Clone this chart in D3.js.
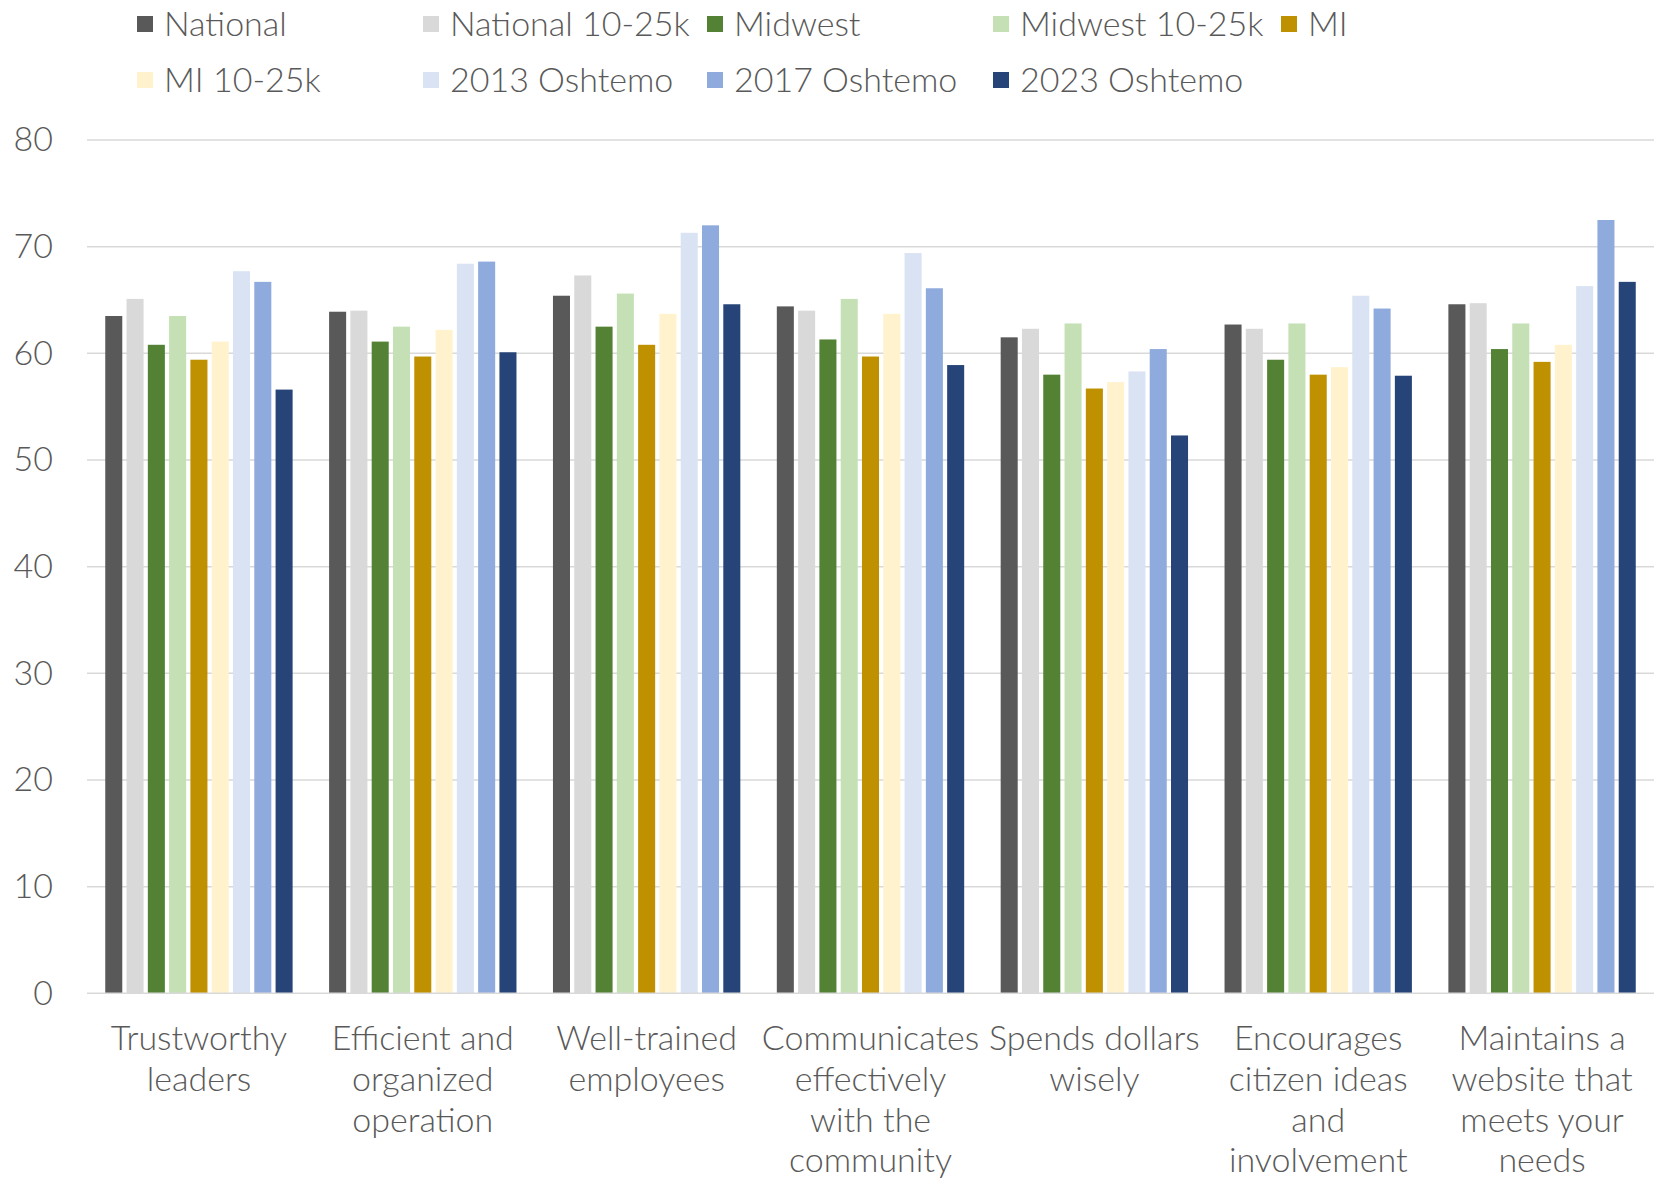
<!DOCTYPE html>
<html>
<head>
<meta charset="utf-8">
<script src="https://cdn.jsdelivr.net/npm/d3@7"></script>
<style>
  html, body { margin: 0; padding: 0; background: #fff; }
  svg text { font-family: Lato, "Open Sans", sans-serif; font-weight: 300; fill: #595959; }
</style>
</head>
<body>
<svg id="chart" width="1660" height="1180"></svg>
<script>
// Survey categories, each drawn as a multi-line tick label
const categories = [
  "Trustworthy leaders",
  "Efficient and organized operation",
  "Well-trained employees",
  "Communicates effectively with the community",
  "Spends dollars wisely",
  "Encourages citizen ideas and involvement",
  "Maintains a website that meets your needs"
];
const categoryLines = [
  ["Trustworthy", "leaders"],
  ["Efficient and", "organized", "operation"],
  ["Well-trained", "employees"],
  ["Communicates", "effectively", "with the", "community"],
  ["Spends dollars", "wisely"],
  ["Encourages", "citizen ideas", "and", "involvement"],
  ["Maintains a", "website that", "meets your", "needs"]
];

const seriesNames = [
  "National", "National 10-25k", "Midwest", "Midwest 10-25k", "MI",
  "MI 10-25k", "2013 Oshtemo", "2017 Oshtemo", "2023 Oshtemo"
];
const seriesColors = [
  "#595959", "#d9d9d9", "#548235", "#c5e0b4", "#bf9000",
  "#fff2cc", "#dae3f3", "#8faadc", "#264478"
];

// One value per category for each series
const national      = [63.5, 63.9, 65.4, 64.4, 61.5, 62.7, 64.6];
const national10_25 = [65.1, 64.0, 67.3, 64.0, 62.3, 62.3, 64.7];
const midwest       = [60.8, 61.1, 62.5, 61.3, 58.0, 59.4, 60.4];
const midwest10_25  = [63.5, 62.5, 65.6, 65.1, 62.8, 62.8, 62.8];
const mi            = [59.4, 59.7, 60.8, 59.7, 56.7, 58.0, 59.2];
const mi10_25       = [61.1, 62.2, 63.7, 63.7, 57.3, 58.7, 60.8];
const osh2013       = [67.7, 68.4, 71.3, 69.4, 58.3, 65.4, 66.3];
const osh2017       = [66.7, 68.6, 72.0, 66.1, 60.4, 64.2, 72.5];
const osh2023       = [56.6, 60.1, 64.6, 58.9, 52.3, 57.9, 66.7];

const seriesValues = [national, national10_25, midwest, midwest10_25, mi,
                      mi10_25, osh2013, osh2017, osh2023];

const yTicks = [0, 10, 20, 30, 40, 50, 60, 70, 80];

const svg = d3.select("#chart");
const margin = { left: 87, right: 6, top: 140 };
const width = 1660 - margin.left - margin.right;
const plotBottom = 993.3;
const fontSize = "34px";

const y = d3.scaleLinear().domain([0, 80]).range([plotBottom, margin.top]);

const x0 = d3.scaleBand()
  .domain(categories)
  .range([margin.left, margin.left + width])
  .paddingInner(0.163)
  .paddingOuter(0.0815);

const x1 = d3.scaleBand()
  .domain(seriesNames)
  .range([0, x0.bandwidth()])
  .paddingInner(0.2)
  .paddingOuter(0);

// Horizontal gridlines
svg.append("g")
  .selectAll("line")
  .data(yTicks.filter(d => d > 0))
  .join("line")
  .attr("x1", margin.left)
  .attr("x2", margin.left + width)
  .attr("y1", d => y(d))
  .attr("y2", d => y(d))
  .attr("stroke", "#d9d9d9")
  .attr("stroke-width", 1.5);

// Y axis labels
const yAxis = d3.axisLeft(y).tickValues(yTicks).tickSize(0).tickPadding(0);
const yg = svg.append("g")
  .attr("transform", `translate(${53},0)`)
  .call(yAxis);
yg.select(".domain").remove();
yg.selectAll("text")
  .style("font-family", "Lato, sans-serif")
  .style("font-weight", 300)
  .style("font-size", fontSize)
  .attr("fill", "#595959");

// Bars
const groups = svg.append("g")
  .selectAll("g")
  .data(categories)
  .join("g")
  .attr("transform", d => `translate(${x0(d)},0)`);

groups.selectAll("rect")
  .data((c, ci) => seriesNames.map((s, si) => ({ s, si, v: seriesValues[si][ci] })))
  .join("rect")
  .attr("x", d => x1(d.s))
  .attr("width", x1.bandwidth())
  .attr("y", d => y(d.v))
  .attr("height", d => y(0) - y(d.v))
  .attr("fill", d => seriesColors[d.si]);

// Baseline
svg.append("line")
  .attr("x1", margin.left)
  .attr("x2", margin.left + width)
  .attr("y1", y(0))
  .attr("y2", y(0))
  .attr("stroke", "#d9d9d9")
  .attr("stroke-width", 1.5);

// Category labels
const labels = svg.append("g")
  .selectAll("text")
  .data(categories)
  .join("text")
  .attr("text-anchor", "middle")
  .style("font-size", fontSize)
  .attr("transform", d => `translate(${x0(d) + x0.bandwidth() / 2},${1050})`);

labels.selectAll("tspan")
  .data((c, i) => categoryLines[i])
  .join("tspan")
  .attr("x", 0)
  .attr("dy", (d, i) => i === 0 ? 0 : 40.8)
  .text(d => d);

// Legend, two rows of entries
const legendCols = [137, 423, 707, 993, 1281];
const legendRows = [24, 80];
const legend = svg.append("g")
  .selectAll("g")
  .data(seriesNames)
  .join("g")
  .attr("transform", (d, i) => `translate(${legendCols[i % 5]},${legendRows[Math.floor(i / 5)]})`);

legend.append("rect")
  .attr("x", 0)
  .attr("y", -8)
  .attr("width", 16)
  .attr("height", 16)
  .attr("fill", (d, i) => seriesColors[i]);

legend.append("text")
  .attr("x", 27)
  .attr("y", 0)
  .attr("dy", "0.35em")
  .style("font-size", fontSize)
  .text(d => d);
</script>
</body>
</html>
